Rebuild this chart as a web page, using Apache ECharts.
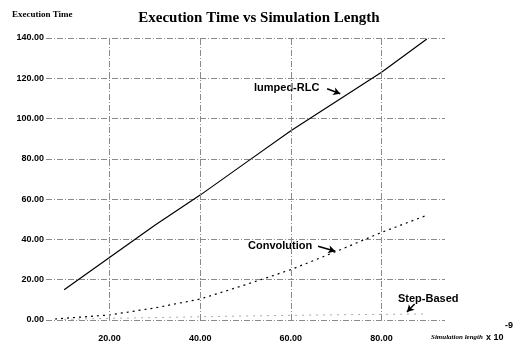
<!DOCTYPE html>
<html>
<head>
<meta charset="utf-8">
<script src="https://cdn.jsdelivr.net/npm/echarts@6/dist/echarts.min.js"></script>
<style>
  html, body { margin: 0; padding: 0; background: #fff; }
  #chart { width: 514px; height: 343px; }
</style>
</head>
<body>
<div id="chart"></div>
<script>
// 数据
const simLength = [10, 20, 30, 40, 50, 60, 70, 80, 90];
const lumpedRLC = [15, 31, 47, 62, 78, 94, 108.5, 123, 139.5];
const convLength = [8, 20, 30, 40, 50, 60, 70, 80, 90];
const convolution = [0.5, 2.5, 6, 10.4, 17.5, 25, 34, 43.5, 52];
const stepBased = [0.3, 0.8, 1.2, 1.6, 2.0, 2.3, 2.6, 2.8, 3.0];
const xTicks = [20, 40, 60, 80];

const pair = (xs, ys) => xs.map((x, i) => [x, ys[i]]);

const gridStyle = { color: '#8a8a8a', width: 1, type: [6, 2, 1, 2] };
const boldSans = { fontFamily: 'Liberation Sans', fontWeight: 'bold', color: '#000' };

const chart = echarts.init(document.getElementById('chart'));

const option = {
  backgroundColor: '#fff',
  animation: false,
  title: {
    text: 'Execution Time vs Simulation Length',
    left: 254,
    textAlign: 'center',
    top: 6,
    textStyle: { fontFamily: 'Liberation Serif', fontWeight: 'bold', fontSize: 15, color: '#000' }
  },
  grid: { left: 46, right: 69, top: 38, bottom: 22 },
  xAxis: {
    type: 'value',
    min: 6,
    max: 94,
    axisLine: { show: false },
    axisTick: { show: false },
    splitLine: { show: false },
    axisLabel: {
      customValues: xTicks,
      formatter: v => v.toFixed(2),
      margin: 14,
      fontSize: 9,
      ...boldSans
    }
  },
  yAxis: {
    type: 'value',
    min: 0,
    max: 140,
    interval: 20,
    axisLine: { show: false },
    axisTick: { show: false },
    splitLine: { show: true, lineStyle: gridStyle },
    axisLabel: {
      formatter: v => v.toFixed(2),
      margin: 2,
      fontSize: 9,
      ...boldSans
    }
  },
  series: [
    {
      name: 'lumped-RLC',
      type: 'line',
      data: pair(simLength, lumpedRLC),
      showSymbol: false,
      lineStyle: { color: '#000', width: 1.2 },
      markLine: {
        silent: true,
        symbol: 'none',
        label: { show: false },
        lineStyle: gridStyle,
        data: xTicks.map(v => ({ xAxis: v }))
      },
      z: 3
    },
    {
      name: 'arrows',
      type: 'line',
      data: [],
      markLine: {
        silent: true,
        symbol: ['none', 'arrow'],
        symbolSize: [6, 7],
        label: { show: false },
        lineStyle: { color: '#000', width: 1.5, type: 'solid' },
        data: [
          [{ coord: [68.0, 114.8] }, { coord: [70.9, 112.3] }],
          [{ coord: [66.0, 36.6] }, { coord: [69.8, 34.1] }],
          [{ coord: [87.3, 7.9] }, { coord: [85.6, 4.0] }]
        ]
      }
    },
    {
      name: 'Convolution',
      type: 'line',
      data: pair(convLength, convolution),
      showSymbol: false,
      lineStyle: { color: '#000', width: 1.2, type: [2, 4] },
      z: 3
    },
    {
      name: 'Step-Based',
      type: 'line',
      data: pair(simLength, stepBased),
      showSymbol: false,
      lineStyle: { color: '#aaa', width: 1, type: [2, 5] },
      z: 2
    }
  ],
  graphic: [
    {
      type: 'text', left: 12, top: 10,
      style: { text: 'Execution Time', font: 'bold 9px "Liberation Serif"', fill: '#000' }
    },
    {
      type: 'text', left: 254, top: 82,
      style: { text: 'lumped-RLC', font: 'bold 11px "Liberation Sans"', fill: '#000' }
    },
    {
      type: 'text', left: 248, top: 240,
      style: { text: 'Convolution', font: 'bold 11px "Liberation Sans"', fill: '#000' }
    },
    {
      type: 'text', left: 398, top: 293,
      style: { text: 'Step-Based', font: 'bold 11px "Liberation Sans"', fill: '#000' }
    },
    {
      type: 'text', left: 431, top: 334,
      style: { text: 'Simulation length', font: 'bold italic 7px "Liberation Serif"', fill: '#000' }
    },
    {
      type: 'text', left: 486, top: 333,
      style: { text: 'x 10', font: 'bold 9px "Liberation Sans"', fill: '#000' }
    },
    {
      type: 'text', left: 505, top: 321,
      style: { text: '-9', font: 'bold 9px "Liberation Sans"', fill: '#000' }
    }
  ]
};

chart.setOption(option);
</script>
</body>
</html>
